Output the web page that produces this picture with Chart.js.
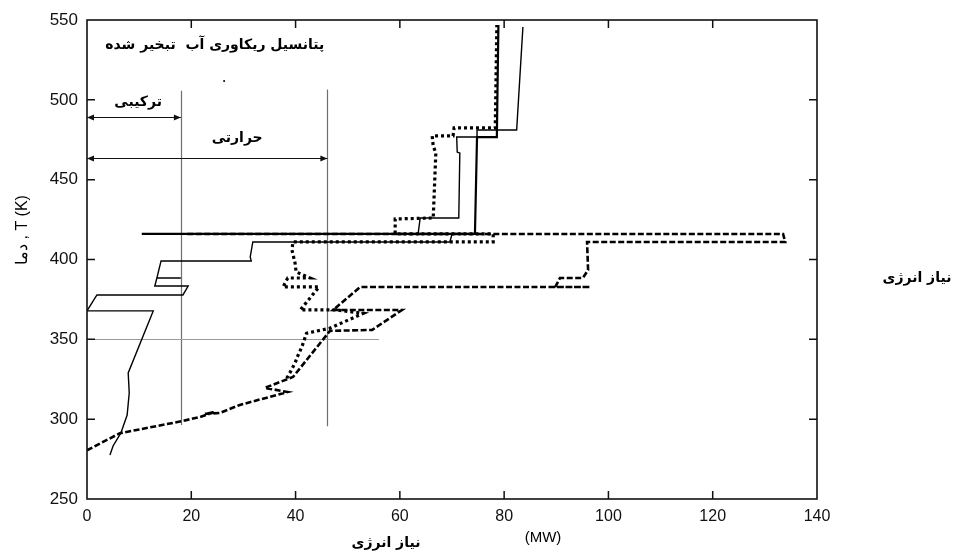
<!DOCTYPE html>
<html><head><meta charset="utf-8">
<script src="https://cdn.jsdelivr.net/npm/chart.js@4"></script>
<style>html,body{margin:0;padding:0;background:#fff}</style>
</head><body>
<canvas id="c" width="954" height="553"></canvas>
<script>
// ---------- data (MW, K) ----------
const xTicks = [0,20,40,60,80,100,120,140];
const yTicks = [250,300,350,400,450,500,550];

// thin solid curve
const thinMW = [4.4,5.0,6.5,7.7,8.1,7.9,12.7,0,1.9,18.4,19.4,13.0,13.4,18.0,13.4,14.2,31.5,31.3,31.8,69.6,70.0,63.5,63.9,71.3,71.5,71.0,70.9,74.8,74.8,82.4,83.6];
const thinT  = [277.6,283.2,291.4,302.6,316.4,329.0,367.8,367.8,377.8,377.8,383.4,383.4,388.4,388.4,388.4,399.1,399.1,401.6,411.0,411.0,416.0,416.0,426.0,426.0,466.7,467.3,476.7,476.7,481.1,481.1,545.6];

// thick solid curve
const thickMW = [10.5,74.4,74.8,78.6,78.9];
const thickT  = [416.0,416.0,476.7,476.7,546.9];

// dashed curve
const dashMW = [0,6.3,17.8,21.7,24.5,22.6,25.5,29.3,38.5,34.1,39.5,46.6,54.7,60.4,47.2,52.4,96.5,89.8,90.7,95.1,96.1,95.9,133.9,133.5,18.8];
const dashT  = [280.5,291.2,298.5,301.4,304.5,303.3,303.9,308.9,317.0,319.6,326.4,355.3,355.9,368.4,368.4,382.8,382.8,382.8,388.4,388.4,393.4,411.0,411.0,416.0,416.0];

// dotted curve
const dotMW = [38.3,38.9,39.9,40.5,41.2,42.1,46.6,53.0,47.9,40.9,44.5,37.6,38.5,42.8,40.1,39.9,39.3,39.5,77.9,77.9,59.1,59.1,66.4,66.9,66.4,66.2,70.2,70.4,78.3,78.6];
const dotT  = [325.6,329.0,335.2,340.2,345.2,353.8,357.0,366.3,368.4,368.4,382.8,382.8,388.4,388.4,392.2,397.8,406.0,411.0,411.0,416.0,416.0,425.4,426.0,466.7,471.1,477.4,477.4,482.4,482.4,546.9];

// reference lines (MW / K)
const refVx  = [18.0, 46.1];
const refVt0 = [296.4, 295.5];
const refVt1 = [505.7, 506.5];
const refHt  = [350.5];
const refHx0 = [0];
const refHx1 = [56];

// double arrows
const arrowT  = [489.5, 463.6];
const arrowX0 = [0, 0];
const arrowX1 = [18.0, 46.1];

// texts
const labelTop   = 'پتانسیل ریکاوری آب  تبخیر شده';
const labelComb  = 'ترکیبی';
const labelHeat  = 'حرارتی';
const labelNeed  = 'نیاز انرژی';
const labelUnit  = '(MW)';
const labelY     = 'دما , T (K)';

function pts(a,b){return a.map((v,i)=>({x:v,y:b[i]}));}

const decor = {
  id:'decor',
  beforeDatasetsDraw(chart){
    const {ctx, scales:{x,y}} = chart;
    ctx.save();
    ctx.strokeStyle = '#6f6f6f'; ctx.lineWidth = 1.2;
    refVx.forEach((v,i)=>{
      const px = Math.round(x.getPixelForValue(v))+0.5;
      ctx.beginPath(); ctx.moveTo(px, y.getPixelForValue(refVt0[i])); ctx.lineTo(px, y.getPixelForValue(refVt1[i])); ctx.stroke();
    });
    ctx.strokeStyle = '#9a9a9a';
    refHt.forEach((v,i)=>{
      const py = Math.round(y.getPixelForValue(v))+0.5;
      ctx.beginPath(); ctx.moveTo(x.getPixelForValue(refHx0[i]), py); ctx.lineTo(x.getPixelForValue(refHx1[i]), py); ctx.stroke();
    });
    ctx.restore();
  },
  afterDraw(chart){
    const {ctx, chartArea:ca, scales:{x,y}} = chart;
    ctx.save();
    // frame
    ctx.strokeStyle = '#111'; ctx.lineWidth = 1.6;
    ctx.strokeRect(ca.left, ca.top, ca.right-ca.left, ca.bottom-ca.top);
    // inside ticks
    ctx.lineWidth = 1.5;
    const L = 8;
    xTicks.forEach(v=>{
      const px = x.getPixelForValue(v);
      if (px<=ca.left+1 || px>=ca.right-1) return;
      ctx.beginPath();
      ctx.moveTo(px, ca.bottom); ctx.lineTo(px, ca.bottom-L);
      ctx.moveTo(px, ca.top); ctx.lineTo(px, ca.top+L);
      ctx.stroke();
    });
    yTicks.forEach(v=>{
      const py = y.getPixelForValue(v);
      if (py<=ca.top+1 || py>=ca.bottom-1) return;
      ctx.beginPath();
      ctx.moveTo(ca.left, py); ctx.lineTo(ca.left+L, py);
      ctx.moveTo(ca.right, py); ctx.lineTo(ca.right-L, py);
      ctx.stroke();
    });
    // arrows
    ctx.strokeStyle = '#111'; ctx.fillStyle = '#111'; ctx.lineWidth = 1;
    arrowT.forEach((t,i)=>{
      const py = Math.round(y.getPixelForValue(t))+0.5;
      const a = x.getPixelForValue(arrowX0[i]), b = x.getPixelForValue(arrowX1[i]);
      ctx.beginPath(); ctx.moveTo(a,py); ctx.lineTo(b,py); ctx.stroke();
      ctx.beginPath(); ctx.moveTo(a,py); ctx.lineTo(a+7,py-3); ctx.lineTo(a+7,py+3); ctx.closePath(); ctx.fill();
      ctx.beginPath(); ctx.moveTo(b,py); ctx.lineTo(b-7,py-3); ctx.lineTo(b-7,py+3); ctx.closePath(); ctx.fill();
    });
    // in-plot texts
    ctx.fillStyle = '#000';
    ctx.textAlign = 'center'; ctx.textBaseline = 'middle';
    ctx.direction = 'rtl';
    ctx.font = 'bold 14px "DejaVu Sans"';
    ctx.fillText(labelTop, x.getPixelForValue(24.5), y.getPixelForValue(534.3));
    ctx.fillText(labelComb, x.getPixelForValue(9.8), y.getPixelForValue(498.7));
    ctx.fillText(labelHeat, x.getPixelForValue(28.8), y.getPixelForValue(476.1));
    ctx.beginPath(); ctx.arc(x.getPixelForValue(26.3), y.getPixelForValue(511.8), 1, 0, Math.PI*2); ctx.fill();
    // outside texts
    ctx.fillText(labelNeed, 917, 278);
    ctx.fillText(labelNeed, 386, 543);
    ctx.direction = 'ltr';
    ctx.font = '15px "Liberation Sans"';
    ctx.fillText(labelUnit, 543, 538);
    // y title
    ctx.translate(23, 230); ctx.rotate(-Math.PI/2);
    ctx.font = '16px "Liberation Sans"';
    ctx.fillText(labelY, 0, 0);
    ctx.restore();
  }
};

new Chart(document.getElementById('c'), {
  type:'line',
  data:{datasets:[
    {data:pts(thinMW,thinT), borderColor:'#000', borderWidth:1.4},
    {data:pts(thickMW,thickT), borderColor:'#000', borderWidth:2.2},
    {data:pts(dashMW,dashT), borderColor:'#000', borderWidth:2.6, borderDash:[6,2.5]},
    {data:pts(dotMW,dotT), borderColor:'#000', borderWidth:3.2, borderDash:[3,3]}
  ]},
  options:{
    responsive:false, animation:false, devicePixelRatio:1,
    layout:{padding:{left:0,right:137,top:20,bottom:0}},
    plugins:{legend:{display:false}, tooltip:{enabled:false}},
    elements:{point:{radius:0}, line:{tension:0, borderJoinStyle:'miter', borderCapStyle:'butt'}},
    scales:{
      x:{type:'linear', min:0, max:140,
        afterFit(s){s.height=54;},
        afterBuildTicks(s){s.ticks = xTicks.map(v=>({value:v}));},
        grid:{display:false, drawTicks:false}, border:{display:false},
        ticks:{padding:8, color:'#111', font:{family:'Liberation Sans', size:16}, maxRotation:0, autoSkip:false}},
      y:{type:'linear', min:250, max:550,
        afterFit(s){s.width=87;},
        afterBuildTicks(s){s.ticks = yTicks.map(v=>({value:v}));},
        grid:{display:false, drawTicks:false}, border:{display:false},
        ticks:{padding:9, color:'#111', font:{family:'Liberation Sans', size:17}, autoSkip:false}}
    }
  },
  plugins:[decor]
});
</script>
</body></html>
